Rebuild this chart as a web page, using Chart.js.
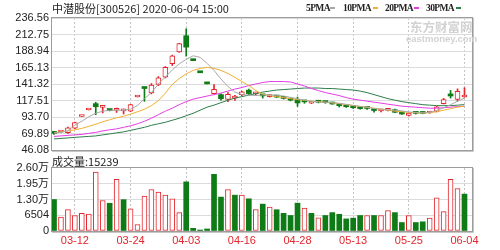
<!DOCTYPE html>
<html><head><meta charset="utf-8">
<script src="https://cdn.jsdelivr.net/npm/chart.js@4.4.0/dist/chart.umd.min.js"></script>
<style>
html,body{margin:0;padding:0;background:#fff;}
#wrap{position:relative;width:500px;height:250px;overflow:hidden;background:#fff;}
canvas{position:absolute;left:0;}
.t{position:absolute;white-space:nowrap;}
.lg{top:2px;font:bold 9.5px 'Liberation Serif';line-height:12px;color:#222;letter-spacing:-0.6px;}
.sw{position:absolute;top:7px;width:5px;height:2px;}
</style></head><body>
<div id="wrap">
<canvas id="pc" width="500" height="160" style="top:0"></canvas>
<canvas id="vc" width="500" height="98" style="top:152px"></canvas>
<div class="t" style="left:52px;top:1px;font:11px 'Noto Sans CJK SC';line-height:14px;color:#222">中潜股份[300526] 2020-06-04 15:00</div>
<div class="t lg" style="left:306px">5PMA</div><div class="sw" style="left:330px;background:#a8a8a8"></div>
<div class="t lg" style="left:343px">10PMA</div><div class="sw" style="left:373px;background:#f0b030"></div>
<div class="t lg" style="left:385px">20PMA</div><div class="sw" style="left:414px;background:#e63ce6"></div>
<div class="t lg" style="left:426px">30PMA</div><div class="sw" style="left:456px;background:#2e7d4a"></div>
<div class="t" style="left:410px;top:19px;font:bold 12.5px 'Noto Sans CJK SC';line-height:16px;color:#d2d2d2">东方财富网</div>
<div class="t" style="left:406px;top:33px;font:bold 9.5px 'Liberation Sans';line-height:11px;color:#d2d2d2">eastmoney.com</div>
<div class="t" style="left:52px;top:154px;font:11px 'Noto Sans CJK SC';line-height:14px;color:#222">成交量:15239</div>
</div>
<script>
const dates = ['03-09','03-10','03-11','03-12','03-13','03-16','03-17','03-18','03-19','03-20',
 '03-23','03-24','03-25','03-26','03-27','03-30','03-31','04-01','04-02','04-03',
 '04-07','04-08','04-09','04-10','04-13','04-14','04-15','04-16','04-17','04-20',
 '04-21','04-22','04-23','04-24','04-27','04-28','04-29','04-30','05-06','05-07',
 '05-08','05-11','05-12','05-13','05-14','05-15','05-18','05-19','05-20','05-21',
 '05-22','05-25','05-26','05-27','05-28','05-29','06-01','06-02','06-03','06-04'];
const opens = [71.5,72,71,77.6,94.4,103.8,113,107.5,103.8,103.5,
 102.5,102,122.6,135.2,128.5,140.6,151,170.5,187.5,211,
 175.2,157.7,141.7,127.5,126,119,121,126,132.5,127,
 124.7,123,124,122,120,119,116.5,113.5,115.8,115.5,
 114,110.5,109.5,108,106.5,107,103.5,102.5,103.2,104.2,
 100.3,95.8,99.8,100,99.5,101.8,113,127,119,122.5];
const highs = [73,73.5,79,86.5,94.5,104,115,108.7,104.2,106.7,
 105.2,112,122.7,135.2,142,152,166.5,183,200,221,
 175.2,157.7,141.7,140.5,127,129,125,131,134,129.5,
 125,126,125,123,121,122.5,117,115,116.5,116,
 115,111,110,108.5,107,107.5,104,104,104.5,105,
 100.8,99.8,100.5,100.8,101.5,109,120.5,132,134.3,136];
const lows = [68.5,71.5,70,77,94.4,103.8,97,99.5,102.5,100.3,
 98,101.5,122.6,116.3,127,139,150,168,187,181.5,
 175,157.5,141.5,127,118,116,117.5,124.5,126,125.5,
 121,122.5,121.5,119.5,117,109,113.5,113,114,113.5,
 112,108,107.5,106,105,104.5,100.5,101,102.5,100,
 97.5,95,98,98.3,99,101,112.5,121,116.5,122];
const closes = [70,73,78,85.8,94.5,104,108.5,108.7,103,104.5,
 103.3,111.5,122.7,134.8,139.6,150.3,165.3,182,199.5,194.5,
 175,157.5,141.5,133.5,120,126.5,123,130,127.5,128.3,
 124.2,125.5,122.5,120.5,118,114,115.5,114.5,115,114.5,
 112.5,110,108.5,107,105.8,106,103,103.5,104,100.5,
 98,99.3,99,98.8,101,108.2,118.8,124,130.8,123];
const ma5 = [70.8,71.5,73.7,82,87.5,94.1,99.1,102,103.5,103.5,
 103.5,105,110.1,120.2,128.9,141.3,151.5,161.7,170.4,176.9,
 182,179.8,171.1,160.9,148.6,137.7,129.7,126,125.3,124.6,
 125.5,125.5,125,124,122,120,118,116.5,115.5,115,
 114.5,113.5,112,110.5,109,107.5,106,105,104,103.5,
 102.5,101,100.5,99.5,100.5,103,107,111.5,116.5,121];
const ma10 = [70.8,72.2,73.7,75.2,77.3,80.3,83.2,86.8,89.7,92.6,
 94.8,97.7,101.3,105,110.1,117.3,128.2,140.6,149.3,155.9,
 160.9,163.8,165.3,163.8,160.9,156.6,150.8,144.9,139.1,131.9,
 126.8,124.6,123.1,121.7,120.2,118.8,117.8,116.6,115.9,115.1,
 114,113,111.5,110.1,109,107.9,106.4,105,103.5,102.1,
 101.3,100.3,99.9,99.4,99.9,101.3,103.5,105.7,107.9,109.3];
const ma20 = [65.7,66.4,67.2,67.9,68.6,70.1,71.5,73.7,75.2,76.6,
 78.8,81,83.9,87.5,91.9,97,102.1,106.4,111.5,115.9,
 119.5,121.7,123.9,126,128.2,131.1,134,136.2,139.1,141.3,
 143.5,144.9,144.9,144.9,144.2,141.3,138.4,134.8,131.9,128.9,
 126.8,124.6,121.7,119.5,118,116.6,115.1,113.7,112.2,110.8,
 109.3,108.6,107.9,107.1,106.4,106.4,107.1,107.9,108.6,109.3];
const ma30 = [62.1,62.8,63.5,64.3,65,65.7,66.4,67.9,69.3,70.8,
 72.2,74.4,76.6,78.8,81.7,83.9,86.1,89,91.9,95.5,
 99.1,103.5,107.9,110.8,114.4,118,120.9,123.1,125.3,127.5,
 129.7,131.1,132.6,133.3,134,134.8,135.5,135.5,135.5,134.8,
 134.8,134,133.3,132.6,131.1,128.9,126,123.1,120.2,118,
 115.9,114.4,113,111.5,110.8,110.1,110.1,110.1,110.8,111.5];
const volumes = [13000,5750,8800,6400,7250,6950,24300,12600,11450,21350,
 12950,9150,2700,14400,17150,16050,14800,13300,7600,20300,
 1100,420,840,23400,14000,17100,14800,14800,13300,8800,
 11100,9900,8800,7300,6400,11500,9500,7300,5400,6400,
 7600,6900,5000,5300,6400,6400,6400,6400,8400,7600,
 3500,6400,3500,3800,5300,13700,8000,21300,17500,15239];
// 1 = up day (red), 0 = down day (green) for the volume bars
const volUp = [0,1,1,1,1,1,1,1,0,1,
 0,1,1,1,1,1,1,1,1,0,
 0,0,0,0,0,1,0,1,0,1,
 0,1,0,0,0,0,1,0,1,0,
 0,0,0,0,0,1,0,1,1,0,
 0,1,0,0,1,1,1,1,1,0];
const priceTicks = [46.08,69.89,93.70,117.51,141.32,165.13,188.94,212.75,236.56];
const volTicks = [0,6504,13008,19512,26016];
const volTickLabels = ['0','6504','1.30万','1.95万','2.60万'];
const dateTickLabels = ['03-12','03-24','04-03','04-16','04-28','05-13','05-25','06-04'];

const RED = '#e3262c', GREEN = '#0f7b16';
const dateTickIdx = dateTickLabels.map(d => dates.indexOf(d));
const up = i => closes[i] >= opens[i];

Chart.defaults.font.family = "'Liberation Sans','Noto Sans CJK SC'";
Chart.defaults.animation = false;

const frame = {
  id: 'frame',
  afterDatasetsDraw(chart) {
    const {ctx, chartArea: a} = chart;
    ctx.save();
    ctx.strokeStyle = '#9c9c9c';
    ctx.lineWidth = 1;
    ctx.strokeRect(a.left - 0.5, a.top - 0.5, a.right - a.left + 1, a.bottom - a.top + 1);
    ctx.strokeStyle = '#c6c6c6';
    ctx.beginPath();
    ctx.moveTo(a.right + 1.5, a.top);
    ctx.lineTo(a.right + 1.5, a.bottom + 1.5);
    ctx.lineTo(a.left, a.bottom + 1.5);
    ctx.stroke();
    ctx.restore();
  }
};

const xBase = () => ({
  type: 'linear', min: -0.29, max: 60.08, offset: false,
  afterBuildTicks: s => { s.ticks = dateTickIdx.map(v => ({value: v})); },
  grid: {color: '#c4c4c4', drawTicks: false, lineWidth: 1, offset: false},
  border: {display: false, dash: [2, 2]}
});

const idx = dates.map((d, i) => i);
const line = (arr, color) => ({
  type: 'line', data: idx.map(i => ({x: i, y: arr[i]})),
  borderColor: color, borderWidth: 1, pointRadius: 0, tension: 0, order: 0
});

new Chart(document.getElementById('pc'), {
  type: 'bar',
  data: {
    datasets: [
      line(ma5, '#a8a8a8'),
      line(ma10, '#f0b030'),
      line(ma20, '#e63ce6'),
      line(ma30, '#2e7d4a'),
      {
        type: 'bar', order: 1, grouped: false, barThickness: 5, minBarLength: 2,
        data: idx.map(i => ({x: i, y: [opens[i], closes[i]]})),
        backgroundColor: c => up(c.dataIndex) ? '#ffffff' : GREEN,
        borderColor: c => up(c.dataIndex) ? RED : GREEN,
        borderWidth: c => up(c.dataIndex) ? 1 : 0,
        borderSkipped: false
      },
      {
        type: 'bar', order: 2, grouped: false, barThickness: 1,
        data: idx.map(i => ({x: i, y: [lows[i], highs[i]]})),
        backgroundColor: c => up(c.dataIndex) ? RED : GREEN,
        borderWidth: 0
      }
    ]
  },
  options: {
    responsive: false,
    events: [],
    layout: {padding: {left: 0, right: 28, top: 18, bottom: 10}},
    plugins: {legend: {display: false}, tooltip: {enabled: false}},
    scales: {
      x: Object.assign(xBase(), {ticks: {display: false}, afterFit: s => { s.height = 0; }}),
      y: {
        min: 46.08, max: 236.56,
        afterBuildTicks: s => { s.ticks = priceTicks.map(v => ({value: v})); },
        ticks: {callback: v => Number(v).toFixed(2), color: '#222', font: {size: 11}, padding: 3, autoSkip: false},
        grid: {color: '#dcdcdc', drawTicks: false},
        border: {display: false},
        afterFit: s => { s.width = 52; }
      }
    }
  },
  plugins: [frame]
});

new Chart(document.getElementById('vc'), {
  type: 'bar',
  data: {
    datasets: [{
      grouped: false, barThickness: 5,
      data: idx.map(i => ({x: i, y: volumes[i]})),
      backgroundColor: c => volUp[c.dataIndex] ? '#ffffff' : GREEN,
      borderColor: c => volUp[c.dataIndex] ? RED : GREEN,
      borderWidth: c => volUp[c.dataIndex] ? 1 : 0,
      borderSkipped: false
    }]
  },
  options: {
    responsive: false,
    events: [],
    layout: {padding: {left: 0, right: 28, top: 16, bottom: 0}},
    plugins: {legend: {display: false}, tooltip: {enabled: false}},
    scales: {
      x: Object.assign(xBase(), {
        ticks: {callback: v => dates[v], color: RED, font: {size: 11}, padding: 3, autoSkip: false, maxRotation: 0},
        afterFit: s => { s.height = 19; }
      }),
      y: {
        min: 0, max: 26016,
        afterBuildTicks: s => { s.ticks = volTicks.map(v => ({value: v})); },
        ticks: {callback: (v, i) => volTickLabels[i], color: '#222', font: {size: 11}, padding: 3, autoSkip: false},
        grid: {color: c => (c.index === 0 || c.index === volTicks.length - 1) ? 'rgba(0,0,0,0)' : '#dcdcdc', drawTicks: false},
        border: {display: false},
        afterFit: s => { s.width = 52; }
      }
    }
  },
  plugins: [frame]
});
</script>
</body></html>
